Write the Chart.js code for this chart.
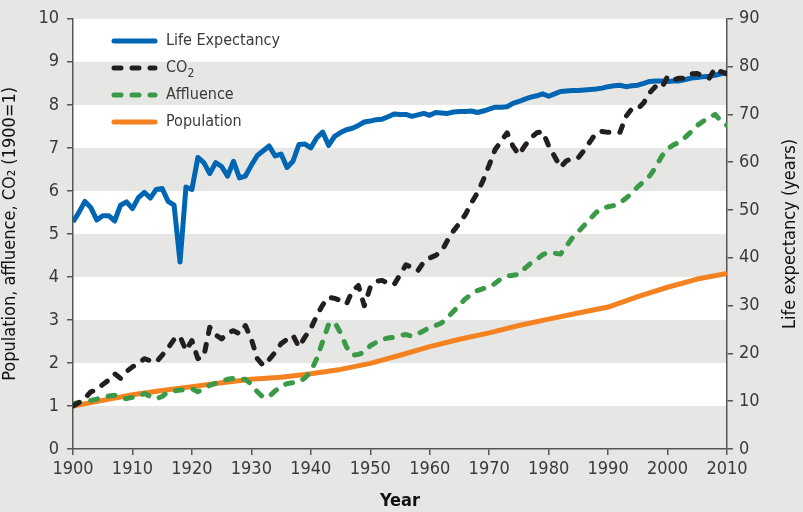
<!DOCTYPE html>
<html>
<head>
<meta charset="utf-8">
<script src="https://cdn.jsdelivr.net/npm/chart.js@4.4.1/dist/chart.umd.min.js"></script>
<style>
  html, body { margin: 0; padding: 0; background: #e6e7e5; }
  #wrap { width: 803px; height: 512px; position: relative; }
</style>
</head>
<body>
<div id="wrap"><canvas id="chart" width="803" height="512"></canvas></div>
<script>
// ---- data ----
const years = [];
for (let y = 1900; y <= 2010; y++) years.push(y);

// life expectancy in years (right axis)
const lifeExpectancy = [
  47.5, 49.5, 51.8, 50.5, 47.9, 48.8, 48.8, 47.7, 51.0, 51.7,
  50.3, 52.6, 53.7, 52.5, 54.3, 54.5, 51.8, 51.0, 39.1, 54.8,
  54.3, 61.0, 59.9, 57.6, 59.9, 59.1, 57.1, 60.2, 56.7, 57.1,
  59.4, 61.4, 62.4, 63.4, 61.3, 61.7, 58.9, 60.2, 63.7, 63.8,
  63.0, 65.1, 66.3, 63.5, 65.4, 66.2, 66.8, 67.1, 67.7, 68.4,
  68.6, 68.9, 69.0, 69.5, 70.1, 70.0, 70.0, 69.6, 69.9, 70.2,
  69.8, 70.4, 70.3, 70.2, 70.5, 70.6, 70.6, 70.7, 70.4, 70.7,
  71.1, 71.5, 71.5, 71.6, 72.3, 72.7, 73.2, 73.6, 73.9, 74.3,
  73.8, 74.3, 74.8, 74.9, 75.0, 75.0, 75.1, 75.2, 75.3, 75.5,
  75.8, 76.0, 76.1, 75.8, 76.0, 76.1, 76.5, 76.9, 77.0, 77.0,
  76.9, 77.0, 77.0, 77.3, 77.6, 77.7, 77.9, 78.0, 78.2, 78.5,
  78.7
];

// CO2 emissions index, 1900 = 1
const co2 = [
  1.00, 1.08, 1.18, 1.33, 1.37, 1.50, 1.60, 1.75, 1.64, 1.80,
  1.91, 1.98, 2.10, 2.05, 2.02, 2.18, 2.35, 2.55, 2.62, 2.29,
  2.52, 2.10, 2.15, 2.83, 2.65, 2.56, 2.70, 2.75, 2.68, 2.87,
  2.55, 2.10, 1.94, 2.08, 2.25, 2.45, 2.55, 2.64, 2.37, 2.60,
  2.80, 3.10, 3.35, 3.53, 3.50, 3.45, 3.37, 3.68, 3.80, 3.33,
  3.76, 3.90, 3.92, 3.85, 3.82, 4.05, 4.28, 4.22, 4.14, 4.35,
  4.44, 4.50, 4.60, 4.85, 5.07, 5.25, 5.45, 5.72, 5.95, 6.25,
  6.60, 6.96, 7.15, 7.35, 7.04, 6.84, 7.05, 7.23, 7.35, 7.38,
  7.05, 6.80, 6.55, 6.70, 6.75, 6.77, 6.95, 7.15, 7.35, 7.38,
  7.36, 7.36, 7.36, 7.73, 7.91, 7.91, 8.05, 8.28, 8.43, 8.39,
  8.66, 8.58, 8.62, 8.62, 8.72, 8.73, 8.66, 8.62, 8.85, 8.77,
  8.72
];

// affluence index, 1900 = 1
const affluence = [
  1.05, 1.08, 1.10, 1.13, 1.16, 1.20, 1.23, 1.25, 1.18, 1.17,
  1.20, 1.22, 1.29, 1.22, 1.17, 1.22, 1.33, 1.35, 1.37, 1.38,
  1.40, 1.33, 1.40, 1.48, 1.53, 1.58, 1.62, 1.64, 1.62, 1.62,
  1.50, 1.33, 1.20, 1.22, 1.35, 1.45, 1.52, 1.54, 1.56, 1.65,
  1.80, 2.10, 2.50, 2.90, 2.95, 2.70, 2.37, 2.18, 2.20, 2.25,
  2.40, 2.48, 2.55, 2.58, 2.60, 2.64, 2.66, 2.62, 2.68, 2.75,
  2.82, 2.87, 2.93, 3.06, 3.20, 3.35, 3.49, 3.60, 3.68, 3.73,
  3.76, 3.85, 3.96, 4.02, 4.04, 4.06, 4.20, 4.32, 4.40, 4.52,
  4.57, 4.55, 4.53, 4.72, 4.91, 5.05, 5.20, 5.35, 5.50, 5.60,
  5.63, 5.66, 5.72, 5.83, 5.95, 6.10, 6.22, 6.35, 6.55, 6.80,
  6.98, 7.07, 7.13, 7.25, 7.38, 7.52, 7.62, 7.70, 7.78, 7.62,
  7.52
];

// population index, 1900 = 1 (5-year points)
const popYears = [1900, 1905, 1910, 1915, 1920, 1925, 1930, 1935, 1940, 1945, 1950, 1955,
                  1960, 1965, 1970, 1975, 1980, 1985, 1990, 1995, 2000, 2005, 2010];
const population = [1.00, 1.13, 1.26, 1.36, 1.45, 1.54, 1.62, 1.67, 1.75, 1.85, 1.99, 2.18,
                    2.38, 2.55, 2.70, 2.87, 3.02, 3.16, 3.30, 3.54, 3.76, 3.95, 4.08];

const leftTicks = [0, 1, 2, 3, 4, 5, 6, 7, 8, 9, 10];
const rightTicks = [0, 10, 20, 30, 40, 50, 60, 70, 80, 90];

const FONT = "'Liberation Sans Narrow', 'DejaVu Sans Condensed', 'Liberation Sans', sans-serif";
const GRAY = '#e6e7e5';
const AXIS = '#555555';
const TEXT = '#3a3a3a';

function pts(xs, ys) {
  return xs.map((x, i) => ({ x: x, y: ys[i] }));
}

// --- striped plot background ---
const bandsPlugin = {
  id: 'bands',
  beforeDraw(chart) {
    const ctx = chart.ctx;
    const a = chart.chartArea;
    const y = chart.scales.y;
    ctx.save();
    ctx.fillStyle = GRAY;
    ctx.fillRect(0, 0, chart.width, chart.height);
    for (let v = 0; v < 10; v++) {
      const top = y.getPixelForValue(v + 1);
      const bot = y.getPixelForValue(v);
      ctx.fillStyle = (v % 2 === 1) ? '#ffffff' : GRAY;
      ctx.fillRect(a.left, top, a.right - a.left, bot - top);
    }
    ctx.restore();
  }
};

// --- legend drawn inside the plot, plus right axis title ---
const extrasPlugin = {
  id: 'extras',
  afterDraw(chart) {
    const ctx = chart.ctx;
    const ds = chart.data.datasets;
    ctx.save();
    ds.forEach((d, i) => {
      const yy = 41 + i * 27;
      ctx.beginPath();
      ctx.strokeStyle = d.borderColor;
      ctx.lineWidth = d.borderWidth;
      ctx.lineCap = 'round';
      ctx.setLineDash(d.borderDash || []);
      ctx.moveTo(114, yy);
      ctx.lineTo(155, yy);
      ctx.stroke();
      ctx.setLineDash([]);
      ctx.fillStyle = TEXT;
      ctx.textBaseline = 'middle';
      ctx.textAlign = 'left';
      ctx.font = '16px ' + FONT;
      if (d.label === 'CO2') {
        ctx.fillText('CO', 166, yy);
        const w = ctx.measureText('CO').width;
        ctx.font = '12px ' + FONT;
        ctx.fillText('2', 166 + w, yy + 6);
      } else {
        ctx.fillText(d.label, 166, yy);
      }
    });

    // right axis title, reading bottom to top
    const a = chart.chartArea;
    ctx.translate(790, (a.top + a.bottom) / 2);
    ctx.rotate(-Math.PI / 2);
    ctx.fillStyle = '#111';
    ctx.font = '18px ' + FONT;
    ctx.textAlign = 'center';
    ctx.textBaseline = 'middle';
    ctx.fillText('Life expectancy (years)', 0, 0);
    ctx.restore();
  }
};

const dashStyle = [7, 11];

new Chart(document.getElementById('chart'), {
  type: 'line',
  data: {
    datasets: [
      {
        label: 'Life Expectancy',
        data: pts(years, lifeExpectancy),
        yAxisID: 'y2',
        borderColor: '#0066b3',
        borderWidth: 5,
        order: 3
      },
      {
        label: 'CO2',
        data: pts(years, co2),
        yAxisID: 'y',
        borderColor: '#231f20',
        borderWidth: 5,
        borderDash: dashStyle,
        borderCapStyle: 'round',
        order: 1
      },
      {
        label: 'Affluence',
        data: pts(years, affluence),
        yAxisID: 'y',
        borderColor: '#3a9a47',
        borderWidth: 5,
        borderDash: dashStyle,
        borderCapStyle: 'round',
        order: 2
      },
      {
        label: 'Population',
        data: pts(popYears, population),
        yAxisID: 'y',
        borderColor: '#f58220',
        borderWidth: 5,
        order: 4
      }
    ]
  },
  options: {
    responsive: false,
    animation: false,
    layout: { padding: { top: 17, left: 0, right: 0, bottom: 0 } },
    elements: {
      point: { radius: 0 },
      line: { tension: 0, borderJoinStyle: 'round', fill: false }
    },
    plugins: {
      legend: { display: false },
      tooltip: { enabled: false }
    },
    scales: {
      x: {
        type: 'linear',
        min: 1900,
        max: 2010,
        afterFit(s) { s.height = 63; },
        ticks: {
          stepSize: 10,
          color: TEXT,
          font: { family: FONT, size: 18 },
          padding: 4,
          maxRotation: 0,
          callback: v => String(v)
        },
        grid: { drawOnChartArea: false, drawTicks: true, tickLength: 6, color: AXIS, lineWidth: 1.5 },
        border: { display: true, color: AXIS, width: 1.5 },
        title: {
          display: true,
          text: 'Year',
          color: '#111',
          font: { family: FONT, size: 18, weight: 'bold' },
          padding: { top: 4, bottom: 0 }
        }
      },
      y: {
        position: 'left',
        min: 0,
        max: 10,
        afterFit(s) { s.width = 73; },
        afterBuildTicks(s) { s.ticks = leftTicks.map(v => ({ value: v })); },
        ticks: {
          color: TEXT,
          font: { family: FONT, size: 18 },
          padding: 8
        },
        grid: { drawOnChartArea: false, drawTicks: true, tickLength: 6, color: AXIS, lineWidth: 1.5 },
        border: { display: true, color: AXIS, width: 1.5 },
        title: {
          display: true,
          text: 'Population, affluence, CO\u2082 (1900=1)',
          color: '#111',
          font: { family: FONT, size: 18 },
          padding: { top: 0, bottom: 4 }
        }
      },
      y2: {
        position: 'right',
        min: 0,
        max: 90,
        afterFit(s) { s.width = 76; },
        afterBuildTicks(s) { s.ticks = rightTicks.map(v => ({ value: v })); },
        ticks: {
          color: TEXT,
          font: { family: FONT, size: 18 },
          padding: 6
        },
        grid: { drawOnChartArea: false, drawTicks: true, tickLength: 6, color: AXIS, lineWidth: 1.5 },
        border: { display: true, color: AXIS, width: 1.5 }
      }
    }
  },
  plugins: [bandsPlugin, extrasPlugin]
});
</script>
</body>
</html>
